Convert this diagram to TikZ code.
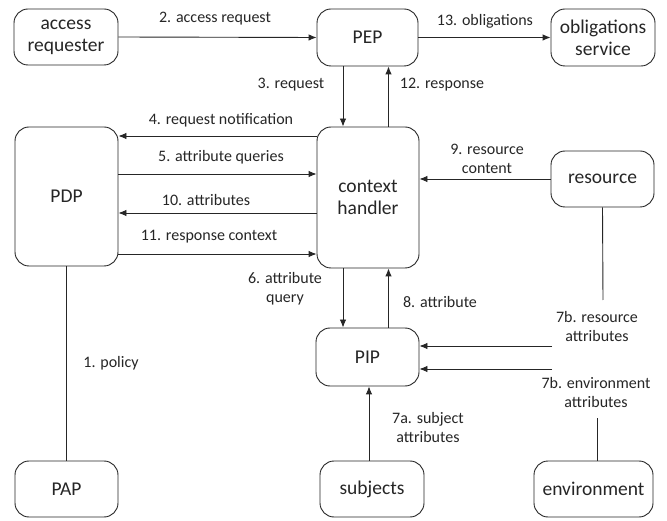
\documentclass[tikz,border=0pt]{standalone}
\usepackage{fontspec}
\setmainfont{Carlito}
\usetikzlibrary{arrows.meta}
\begin{document}
\begin{tikzpicture}[x=1pt,y=-1pt,
  box/.style={draw=black!85, line width=0.9pt, rounded corners=14pt, inner sep=0pt,
    align=center, text=black!85, font=\fontsize{19.5}{22}\selectfont},
  lbl/.style={inner sep=0pt, align=center, text=black!85, font=\fontsize{16}{19}\selectfont},
  arr/.style={draw=black!85, line width=0.9pt, -{Latex[length=8pt,width=6.5pt]}},
  ln/.style={draw=black!85, line width=0.9pt}]
\useasboundingbox (0,0) rectangle (667,521);
\fill[white] (0,0) rectangle (667,521);

% components
\node[box, minimum width=104pt, minimum height=56pt] (ar)  at (66,37)    {access\\requester};
\node[box, minimum width=101pt, minimum height=57pt] (pep) at (367.5,37.5) {PEP};
\node[box, minimum width=104pt, minimum height=57pt] (obl) at (603,37.5) {obligations\\service};
\node[box, minimum width=103pt, minimum height=139pt] (pdp) at (66.5,196.5) {PDP};
\node[box, minimum width=102pt, minimum height=141pt] (ch) at (368,197.5) {context\\handler};
\node[box, minimum width=103pt, minimum height=56pt] (res) at (602.5,179) {resource};
\node[box, minimum width=103pt, minimum height=58pt] (pip) at (367.5,357) {PIP};
\node[box, minimum width=103pt, minimum height=56pt] (pap) at (66.5,489) {PAP};
\node[box, minimum width=104pt, minimum height=56pt] (sub) at (372,489) {subjects};
\node[box, minimum width=119pt, minimum height=56pt] (env) at (593.5,489) {environment};

% helper rows / columns for parallel connectors
\coordinate (r4)  at (0,136);
\coordinate (r5)  at (0,174);
\coordinate (r10) at (0,213);
\coordinate (r11) at (0,254);
\coordinate (cdown) at (343,0);
\coordinate (cup)   at (388.5,0);
\coordinate (c7a)   at (369,0);
\coordinate (resend) at (603,300);
\coordinate (envend) at (597,418);
\coordinate (r7b1) at (552,346);
\coordinate (r7b2) at (552,369);

% connectors
\draw[arr] (ar.east) -- (pep.west);
\draw[arr] (pep.east) -- (obl.west);
\draw[arr] (pep.south -| cdown) -- (ch.north -| cdown);
\draw[arr] (ch.north -| cup) -- (pep.south -| cup);
\draw[arr] (ch.west |- r4) -- (pdp.east |- r4);
\draw[arr] (pdp.east |- r5) -- (ch.west |- r5);
\draw[arr] (ch.west |- r10) -- (pdp.east |- r10);
\draw[arr] (pdp.east |- r11) -- (ch.west |- r11);
\draw[arr] (res.west) -- (ch.east |- res.west);
\draw[ln]  (res.south) -- (resend);
\draw[arr] (ch.south -| cdown) -- (pip.north -| cdown);
\draw[arr] (pip.north -| cup) -- (ch.south -| cup);
\draw[arr] (r7b1) -- (pip.east |- r7b1);
\draw[arr] (r7b2) -- (pip.east |- r7b2);
\draw[ln]  (envend) -- (env.north -| envend);
\draw[arr] (sub.north -| c7a) -- (pip.south -| c7a);
\draw[ln]  (pdp.south) -- (pap.north);

% connector labels
\node[lbl] (l2)  at (215,19)  {2. access request};
\node[lbl] (l13) at (485,21)  {13. obligations};
\node[lbl] (l3)  at (291,85)  {3. request};
\node[lbl] (l12) at (442,85)  {12. response};
\node[lbl] (l4)  at (221,120) {4. request notification};
\node[lbl] (l5)  at (221,157) {5. attribute queries};
\node[lbl] (l10) at (206,200) {10. attributes};
\node[lbl] (l11) at (209,237) {11. response context};
\node[lbl] (l9)  at (487,159) {9. resource\\content};
\node[lbl] (l6)  at (285,289) {6. attribute\\query};
\node[lbl] (l8)  at (440,302) {8. attribute};
\node[lbl] (l7r) at (597,327) {7b. resource\\attributes};
\node[lbl] (l7e) at (596,393) {7b. environment\\attributes};
\node[lbl] (l7a) at (428,428) {7a. subject\\attributes};
\node[lbl] (l1)  at (111,363) {1. policy};
\end{tikzpicture}
\end{document}
